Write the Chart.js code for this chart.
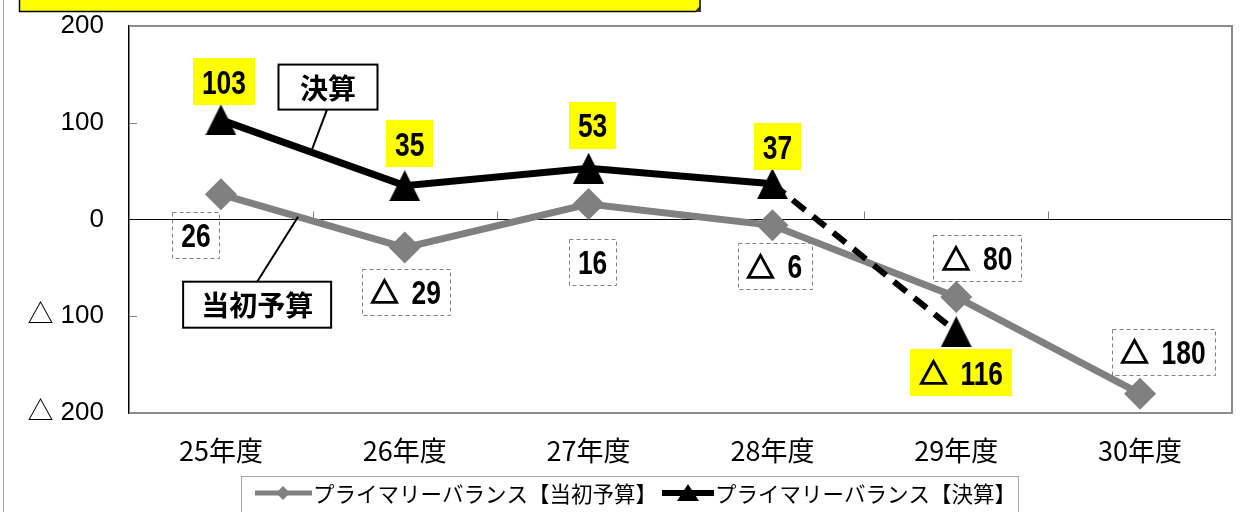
<!DOCTYPE html>
<html lang="ja">
<head>
<meta charset="utf-8">
<title>プライマリーバランスの推移</title>
<script src="https://cdn.jsdelivr.net/npm/chart.js@4.4.1/dist/chart.umd.min.js"></script>
<style>
  html, body { margin: 0; padding: 0; background: #fff; }
  #wrap { width: 1250px; height: 512px; overflow: hidden; }
  canvas { display: block; }
</style>
</head>
<body>
<div id="wrap"><canvas id="pb" width="1250" height="512"></canvas></div>
<script>
// ---- data ----
const categories = ['25年度', '26年度', '27年度', '28年度', '29年度', '30年度'];
const initialBudget = [26, -29, 16, -6, -80, -180];     // 当初予算
const settlement = [103, 35, 53, 37, -116, null];        // 決算
const yTicks = [-200, -100, 0, 100, 200];
const seriesNames = ['プライマリーバランス【当初予算】', 'プライマリーバランス【決算】'];
const calloutNames = ['当初予算', '決算'];

// ---- look ----
const GRAY = '#808080';
const CJK = '"Noto Sans CJK JP", sans-serif';
const DIGIT_FONT = 'bold 33px "Liberation Sans", Arial, sans-serif';
const TRI_FONT = 'bold 28px ' + CJK;
const DIGIT_SX = 0.8;

// negative values are written with a leading △
function fmt(v) { return v < 0 ? '△ ' + Math.abs(v) : String(v); }

function triangleMarker(w, h, color) {
  const c = document.createElement('canvas');
  c.width = w; c.height = h;
  const g = c.getContext('2d');
  g.fillStyle = color;
  g.beginPath();
  g.moveTo(w / 2, 0); g.lineTo(w, h); g.lineTo(0, h); g.closePath();
  g.fill();
  return c;
}
const triBig = triangleMarker(31, 31, '#000');

function measureValue(ctx, v) {
  ctx.font = DIGIT_FONT;
  const dw = ctx.measureText(String(Math.abs(v))).width * DIGIT_SX;
  let tw = 0, gap = 0;
  if (v < 0) { ctx.font = TRI_FONT; tw = ctx.measureText('△').width; gap = 13; }
  return { dw, tw, gap, w: dw + tw + gap };
}

function drawValue(ctx, v, cx, cy) {
  const m = measureValue(ctx, v);
  let x = cx - m.w / 2;
  ctx.fillStyle = '#000';
  if (v < 0) {
    ctx.font = TRI_FONT;
    ctx.textAlign = 'left';
    ctx.textBaseline = 'middle';
    ctx.fillText('△', x, cy + 1);
    ctx.strokeStyle = '#000';
    ctx.lineWidth = 1.6;
    ctx.strokeText('△', x, cy + 1);
    x += m.tw + m.gap;
  }
  ctx.save();
  ctx.translate(x, cy);
  ctx.scale(DIGIT_SX, 1);
  ctx.font = DIGIT_FONT;
  ctx.textAlign = 'left';
  ctx.textBaseline = 'alphabetic';
  ctx.fillText(String(Math.abs(v)), 0, 12);
  ctx.restore();
  return m.w;
}

// label placement relative to each point (dx, dy of the box centre)
const labelOffsets = [
  [[-25, 41], [1, 44], [4, 58], [2, 41], [21, -39], [23, -42]],
  [[3, -38], [5, -42], [4, -43], [5, -37], [5, 41]]
];

const decor = {
  id: 'decor',
  beforeDraw(chart) {
    const ctx = chart.ctx;
    ctx.save();
    ctx.fillStyle = '#fff';
    ctx.fillRect(0, 0, chart.width, chart.height);
    // outer frame edge
    ctx.strokeStyle = '#a6a6a6';
    ctx.lineWidth = 1;
    ctx.beginPath(); ctx.moveTo(3.5, 0); ctx.lineTo(3.5, chart.height); ctx.stroke();
    // heading box
    ctx.fillStyle = '#ffff00';
    ctx.fillRect(19, -10, 681, 22);
    ctx.strokeStyle = '#000';
    ctx.lineWidth = 1.5;
    ctx.beginPath();
    ctx.moveTo(19.5, -2); ctx.lineTo(19.5, 11.5); ctx.lineTo(696, 11.5);
    ctx.lineTo(700, 7); ctx.lineTo(700, -2);
    ctx.stroke();
    ctx.fillStyle = '#333';
    ctx.beginPath(); ctx.moveTo(695, 12); ctx.lineTo(701, 6); ctx.lineTo(701, 12); ctx.closePath(); ctx.fill();
    ctx.restore();
  },
  beforeDatasetsDraw(chart) {
    const ctx = chart.ctx, a = chart.chartArea;
    const x = chart.scales.x, y = chart.scales.y;
    const y0 = y.getPixelForValue(0);
    ctx.save();
    ctx.strokeStyle = GRAY;
    ctx.lineWidth = 1;
    // category boundary ticks on the zero line
    for (let i = 0; i < categories.length - 1; i++) {
      const px = Math.round((x.getPixelForValue(i) + x.getPixelForValue(i + 1)) / 2) + 0.5;
      ctx.beginPath(); ctx.moveTo(px, y0 - 8); ctx.lineTo(px, y0); ctx.stroke();
    }
    // inner value ticks
    yTicks.forEach(v => {
      if (v === 0) return;
      const py = Math.round(y.getPixelForValue(v)) + 0.5;
      ctx.beginPath(); ctx.moveTo(a.left, py); ctx.lineTo(a.left + 8, py); ctx.stroke();
    });
    // plot frame (top, right, bottom)
    ctx.strokeStyle = '#8c8c8c';
    ctx.lineWidth = 2;
    ctx.beginPath();
    ctx.moveTo(a.left, a.top); ctx.lineTo(a.right, a.top); ctx.lineTo(a.right, a.bottom); ctx.lineTo(a.left, a.bottom);
    ctx.stroke();
    ctx.restore();
  },
  afterDatasetsDraw(chart) {
    const ctx = chart.ctx;
    ctx.save();
    // value labels
    [0, 1].forEach(di => {
      const meta = chart.getDatasetMeta(di);
      const data = chart.data.datasets[di].data;
      meta.data.forEach((pt, i) => {
        const v = data[i];
        if (v === null || v === undefined) return;
        const off = labelOffsets[di][i];
        const cx = pt.x + off[0], cy = pt.y + off[1];
        const w = measureValue(ctx, v).w + 18;
        const h = di === 1 ? 47 : 46;
        if (di === 1) {
          ctx.fillStyle = '#ffff00';
          ctx.fillRect(Math.round(cx - w / 2), Math.round(cy - h / 2), Math.round(w), h);
        } else {
          ctx.strokeStyle = GRAY;
          ctx.lineWidth = 1;
          ctx.setLineDash([4, 3]);
          ctx.strokeRect(Math.round(cx - w / 2) + 0.5, Math.round(cy - h / 2) + 0.5, Math.round(w), h);
          ctx.setLineDash([]);
        }
        drawValue(ctx, v, cx, cy);
      });
    });

    // series callouts
    const callout = (di, t, dx, dy, bw, bh, text, fromTop) => {
      const pts = chart.getDatasetMeta(di).data;
      const ax = pts[0].x + (pts[1].x - pts[0].x) * t;
      const ay = pts[0].y + (pts[1].y - pts[0].y) * t;
      const bx = ax + dx, by = ay + dy;
      ctx.strokeStyle = '#000';
      ctx.lineWidth = 2;
      ctx.beginPath();
      ctx.moveTo(fromTop ? bx : bx - 1, fromTop ? by - bh / 2 : by + bh / 2);
      ctx.lineTo(ax, ay);
      ctx.stroke();
      ctx.fillStyle = '#fff';
      ctx.fillRect(bx - bw / 2, by - bh / 2, bw, bh);
      ctx.strokeRect(bx - bw / 2, by - bh / 2, bw, bh);
      ctx.fillStyle = '#000';
      ctx.font = 'bold 28px ' + CJK;
      ctx.textAlign = 'center';
      ctx.textBaseline = 'middle';
      ctx.fillText(text, bx, by + 1);
    };
    callout(1, 0.49, 17, -65, 99, 45, calloutNames[1], false);
    callout(0, 0.42, -41, 88, 148, 46, calloutNames[0], true);

    // legend
    const ly = 493;
    ctx.strokeStyle = '#a6a6a6';
    ctx.lineWidth = 1;
    ctx.strokeRect(241.5, 476.5, 777, 60);
    ctx.font = '21.5px ' + CJK;
    ctx.textAlign = 'left';
    ctx.textBaseline = 'middle';
    let lx = 255;
    // 当初予算 symbol
    ctx.strokeStyle = GRAY; ctx.lineWidth = 5;
    ctx.beginPath(); ctx.moveTo(lx, ly); ctx.lineTo(lx + 57, ly); ctx.stroke();
    ctx.fillStyle = GRAY;
    ctx.beginPath();
    ctx.moveTo(lx + 28, ly - 7); ctx.lineTo(lx + 35, ly); ctx.lineTo(lx + 28, ly + 7); ctx.lineTo(lx + 21, ly);
    ctx.closePath(); ctx.fill();
    lx += 58;
    ctx.fillStyle = '#000';
    ctx.fillText(seriesNames[0], lx, ly + 1);
    lx += ctx.measureText(seriesNames[0]).width + 5;
    // 決算 symbol
    ctx.strokeStyle = '#000'; ctx.lineWidth = 6;
    ctx.beginPath(); ctx.moveTo(lx, ly); ctx.lineTo(lx + 52, ly); ctx.stroke();
    ctx.fillStyle = '#000';
    ctx.beginPath();
    ctx.moveTo(lx + 26, ly - 9); ctx.lineTo(lx + 37, ly + 8); ctx.lineTo(lx + 15, ly + 8);
    ctx.closePath(); ctx.fill();
    lx += 53;
    ctx.fillText(seriesNames[1], lx, ly + 1);
    ctx.restore();
  }
};

new Chart(document.getElementById('pb'), {
  type: 'line',
  data: {
    labels: categories,
    datasets: [
      {
        label: seriesNames[0],
        data: initialBudget,
        borderColor: GRAY,
        borderWidth: 7,
        pointStyle: 'rectRot',
        pointRadius: 16,
        pointBackgroundColor: GRAY,
        pointBorderWidth: 0,
        tension: 0,
        order: 1
      },
      {
        label: seriesNames[1],
        data: settlement,
        borderColor: '#000',
        borderWidth: 7,
        pointStyle: triBig,
        pointRadius: 16,
        pointBackgroundColor: '#000',
        pointBorderWidth: 0,
        tension: 0,
        order: 0,
        segment: {
          borderDash: c => (c.p1DataIndex === 4 ? [16, 10] : undefined),
          borderWidth: c => (c.p1DataIndex === 4 ? 6 : 7)
        }
      }
    ]
  },
  options: {
    responsive: false,
    devicePixelRatio: 1,
    animation: false,
    layout: { padding: { top: 26, right: 18, bottom: 0, left: 0 } },
    plugins: { legend: { display: false }, tooltip: { enabled: false } },
    scales: {
      x: {
        offset: true,
        grid: { display: false, drawTicks: false },
        border: { display: false },
        ticks: { color: '#000', font: { family: '"Noto Sans CJK JP", sans-serif', size: 27 }, padding: 22 },
        afterFit: s => { s.height = 99; s.paddingLeft = 0; s.paddingRight = 0; }
      },
      y: {
        min: -200,
        max: 200,
        afterBuildTicks: s => { s.ticks = yTicks.map(v => ({ value: v })); },
        grid: {
          drawTicks: false,
          color: c => (c.tick && c.tick.value === 0 ? '#000' : 'rgba(0,0,0,0)'),
          lineWidth: 1
        },
        border: { display: true, color: '#000', width: 1.5 },
        ticks: {
          color: '#000',
          padding: 25,
          font: { family: '"Liberation Sans", "Noto Sans CJK JP", sans-serif', size: 26 },
          callback: v => fmt(v)
        },
        afterFit: s => { s.width = 129; s.paddingTop = 0; s.paddingBottom = 0; }
      }
    }
  },
  plugins: [decor]
});
</script>
</body>
</html>
